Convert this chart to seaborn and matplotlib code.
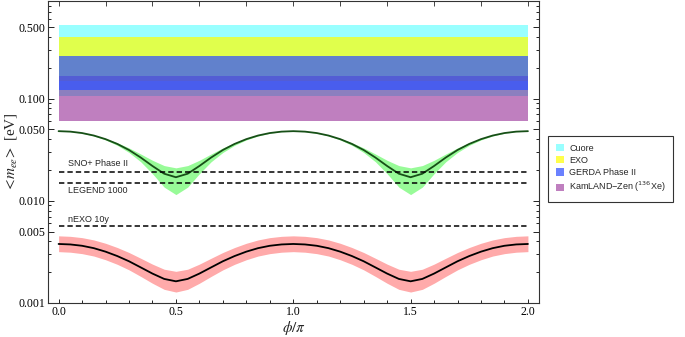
import numpy as np
import matplotlib
matplotlib.use("Agg")
import matplotlib.pyplot as plt
import matplotlib.ticker as mticker
import seaborn as sns

# Experimental limits on <m_ee> (eV)
experiments = ["Cuore", "EXO", "GERDA Phase II", "KamLAND\u2212Zen ($^{136}$Xe)"]
exp_low = [0.107, 0.147, 0.120, 0.061]
exp_high = [0.52, 0.40, 0.26, 0.165]

# future sensitivities
future_names = ["SNO+ Phase II", "LEGEND 1000", "nEXO 10y"]
future_vals = [0.019, 0.015, 0.0057]

# phi/pi grid
phi = np.linspace(0, 2, 41)

green_mid = [0.0480, 0.0475, 0.0460, 0.0435, 0.0401, 0.0360, 0.0314, 0.0265, 0.0219, 0.0184, 0.0170,
             0.0184, 0.0219, 0.0265, 0.0314, 0.0360, 0.0401, 0.0435, 0.0460, 0.0475, 0.0480,
             0.0475, 0.0460, 0.0435, 0.0401, 0.0360, 0.0314, 0.0265, 0.0219, 0.0184, 0.0170,
             0.0184, 0.0219, 0.0265, 0.0314, 0.0360, 0.0401, 0.0435, 0.0460, 0.0475, 0.0480]
green_hi = [0.0480, 0.0475, 0.0461, 0.0438, 0.0407, 0.0370, 0.0329, 0.0287, 0.0249, 0.0221, 0.0210,
            0.0221, 0.0249, 0.0287, 0.0329, 0.0370, 0.0407, 0.0438, 0.0461, 0.0475, 0.0480,
            0.0475, 0.0461, 0.0438, 0.0407, 0.0370, 0.0329, 0.0287, 0.0249, 0.0221, 0.0210,
            0.0221, 0.0249, 0.0287, 0.0329, 0.0370, 0.0407, 0.0438, 0.0461, 0.0475, 0.0480]
green_lo = [0.0480, 0.0474, 0.0458, 0.0431, 0.0394, 0.0349, 0.0297, 0.0241, 0.0184, 0.0136, 0.0115,
            0.0136, 0.0184, 0.0241, 0.0297, 0.0349, 0.0394, 0.0431, 0.0458, 0.0474, 0.0480,
            0.0474, 0.0458, 0.0431, 0.0394, 0.0349, 0.0297, 0.0241, 0.0184, 0.0136, 0.0115,
            0.0136, 0.0184, 0.0241, 0.0297, 0.0349, 0.0394, 0.0431, 0.0458, 0.0474, 0.0480]

red_mid = [0.00378, 0.00374, 0.00363, 0.00344, 0.00318, 0.00288, 0.00256, 0.00223, 0.00194, 0.00172, 0.00163,
           0.00172, 0.00194, 0.00223, 0.00256, 0.00288, 0.00318, 0.00344, 0.00363, 0.00374, 0.00378,
           0.00374, 0.00363, 0.00344, 0.00318, 0.00288, 0.00256, 0.00223, 0.00194, 0.00172, 0.00163,
           0.00172, 0.00194, 0.00223, 0.00256, 0.00288, 0.00318, 0.00344, 0.00363, 0.00374, 0.00378]
red_hi = [0.00454, 0.00449, 0.00436, 0.00414, 0.00384, 0.00349, 0.00312, 0.00274, 0.00240, 0.00214, 0.00204,
          0.00214, 0.00240, 0.00274, 0.00312, 0.00349, 0.00384, 0.00414, 0.00436, 0.00449, 0.00454,
          0.00449, 0.00436, 0.00414, 0.00384, 0.00349, 0.00312, 0.00274, 0.00240, 0.00214, 0.00204,
          0.00214, 0.00240, 0.00274, 0.00312, 0.00349, 0.00384, 0.00414, 0.00436, 0.00449, 0.00454]
red_lo = [0.00318, 0.00314, 0.00304, 0.00288, 0.00265, 0.00239, 0.00211, 0.00182, 0.00156, 0.00136, 0.00128,
          0.00136, 0.00156, 0.00182, 0.00211, 0.00239, 0.00265, 0.00288, 0.00304, 0.00314, 0.00318,
          0.00314, 0.00304, 0.00288, 0.00265, 0.00239, 0.00211, 0.00182, 0.00156, 0.00136, 0.00128,
          0.00136, 0.00156, 0.00182, 0.00211, 0.00239, 0.00265, 0.00288, 0.00304, 0.00314, 0.00318]

sns.set_style("ticks")
plt.rcParams["font.family"] = ["Liberation Serif", "DejaVu Serif"]
plt.rcParams["mathtext.fontset"] = "stix"

fig = plt.figure(figsize=(6.85, 3.37), dpi=100)
ax = fig.add_axes([0.0708, 0.1009, 0.716, 0.896])

# experimental bands (drawn with transparency so they blend like the original)
band_colors = ["#00ffff", "#ffff00", "#3050ff", "#800080"]
band_alpha = [0.4, 0.7, 0.72, 0.5]
handles = {}
for i in [0, 1, 3, 2]:
    h = ax.fill_between([0, 2], exp_low[i], exp_high[i], color=band_colors[i],
                        alpha=band_alpha[i], lw=0)
    handles[i] = h

# green band
ax.fill_between(phi, green_lo, green_hi, color="#98fb98", lw=0)
sns.lineplot(x=phi, y=green_mid, color="#174f17", lw=1.3, ax=ax)

# red band
ax.fill_between(phi, red_lo, red_hi, color="#ffaaaa", lw=0)
sns.lineplot(x=phi, y=red_mid, color="black", lw=1.3, ax=ax)

# future sensitivities
for name, v in zip(future_names, future_vals):
    ax.plot([0, 2], [v, v], color="black", ls=(0, (3.5, 2)), lw=1.1)
text_y = [0.0232, 0.0126, 0.0066]
for name, ty in zip(future_names, text_y):
    ax.text(0.04, ty, name, family=["Liberation Sans", "DejaVu Sans"], fontsize=6.5,
            va="center", ha="left")

ax.set_yscale("log")
ax.set_ylim(0.001, 0.9)
ax.set_xlim(-0.043, 2.047)

ax.yaxis.set_major_locator(mticker.FixedLocator([0.001, 0.005, 0.01, 0.05, 0.1, 0.5]))
ax.yaxis.set_major_formatter(mticker.FixedFormatter(["0.001", "0.005", "0.010", "0.050", "0.100", "0.500"]))
ax.yaxis.set_minor_locator(mticker.LogLocator(base=10, subs=np.arange(2, 10)))
ax.yaxis.set_minor_formatter(mticker.NullFormatter())

ax.xaxis.set_major_locator(mticker.MultipleLocator(0.5))
ax.xaxis.set_minor_locator(mticker.MultipleLocator(0.1))
ax.xaxis.set_major_formatter(mticker.FormatStrFormatter("%.1f"))

ax.tick_params(which="both", direction="in", right=True, labelsize=8.5, width=0.6,
               colors="black", pad=2)
ax.tick_params(which="major", length=4.5)
ax.tick_params(which="minor", length=2.5)
ax.tick_params(axis="x", which="major", length=3)

top = ax.secondary_xaxis("top")
top.set_xticks(np.arange(0, 2.01, 0.2))
top.tick_params(direction="in", length=3.5, width=0.6, labeltop=False)
top.spines["top"].set_visible(False)

for s in ax.spines.values():
    s.set_linewidth(0.8)
    s.set_color("#333333")

ax.set_ylabel(r"$<\!m_{ee}\!>$ [eV]", fontsize=11, labelpad=0)
ax.set_xlabel(r"$\phi/\pi$", fontsize=11, labelpad=1)

leg_order = [0, 1, 2, 3]
leg = fig.legend([handles[i] for i in leg_order], [experiments[i] for i in leg_order],
                 loc="center left", bbox_to_anchor=(0.8, 0.4985),
                 prop={"family": ["Liberation Sans", "DejaVu Sans"], "size": 6.5,
                       "math_fontfamily": "dejavusans"},
                 frameon=True, fancybox=False, handlelength=0.9, handleheight=0.9,
                 handletextpad=0.6, borderpad=0.85, labelspacing=0.35, borderaxespad=0)
leg.get_frame().set_edgecolor("black")
leg.get_frame().set_linewidth(0.8)

fig.savefig("out.png", dpi=100)
